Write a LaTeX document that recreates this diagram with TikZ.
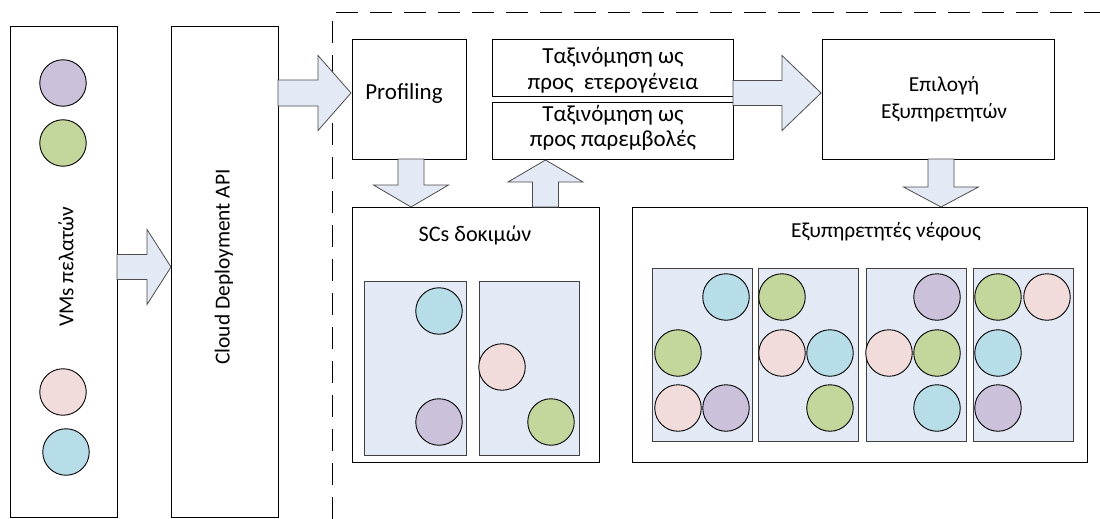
\documentclass[tikz,border=0pt]{standalone}
\usepackage{fontspec}
\setmainfont{Carlito}
\definecolor{cpurple}{HTML}{CCC1DA}
\definecolor{cgreen}{HTML}{C3D69B}
\definecolor{cpink}{HTML}{F2DCDB}
\definecolor{cblue}{HTML}{B7DDE8}
\definecolor{afill}{HTML}{E3EAF6}
\newcommand\harrow[6]{\draw[blockarrow] (#1,{#4-#5}) -- (#2,{#4-#5}) -- (#2,{#4-#6}) -- (#3,#4) -- (#2,{#4+#6}) -- (#2,{#4+#5}) -- (#1,{#4+#5}) -- cycle;}
\newcommand\varrow[6]{\draw[blockarrow] ({#4-#5},#1) -- ({#4-#5},#2) -- ({#4-#6},#2) -- (#4,#3) -- ({#4+#6},#2) -- ({#4+#5},#2) -- ({#4+#5},#1) -- cycle;}
\begin{document}
\begin{tikzpicture}[x=1pt,y=-1pt,
  box/.style={draw=black, line width=1pt, fill=white, inner sep=0pt},
  inbox/.style={draw=black!75, line width=1pt, fill=afill, inner sep=0pt, minimum width=100pt, minimum height=173pt},
  vm/.style={circle, draw=black, line width=0.9pt, minimum size=46.5pt, inner sep=0pt},
  blockarrow/.style={draw=black!70, line width=0.8pt, fill=afill, line join=miter},
  lbl/.style={font=\fontsize{21.4}{27}\selectfont, align=center, inner sep=0pt},
  biglbl/.style={font=\fontsize{23}{25.5}\selectfont, align=center, inner sep=0pt},
  dashline/.style={draw=black, line width=1pt, dash pattern=on 22pt off 12pt}]
\useasboundingbox (0,0) rectangle (1100,519);
\fill[white] (0,0) rectangle (1100,519);
% dashed boundary
\coordinate (dA) at (332,519);
\coordinate (dB) at (332,13);
\coordinate (dC) at (1100,13);
\draw[dashline] (dA) -- (dB) -- (dC);
% main boxes
\node[box, minimum width=107pt, minimum height=490pt] (vms) at (63.5,272) {};
\node[box, minimum width=107pt, minimum height=490pt] (api) at (224.5,272) {};
\node[box, minimum width=114pt, minimum height=119pt] (prof) at (409,99.5) {};
\node[box, minimum width=241pt, minimum height=56pt] (tax1) at (612.5,68) {};
\node[box, minimum width=241pt, minimum height=57pt] (tax2) at (612.5,130.5) {};
\node[box, minimum width=232pt, minimum height=119pt] (epi) at (938,99.5) {};
\node[box, minimum width=247pt, minimum height=255pt] (scs) at (475.5,334.5) {};
\node[box, minimum width=455pt, minimum height=255pt] (srv) at (859.5,334.5) {};
% labels
\node[lbl, rotate=90] (tvms) at (66,267) {VMs πελατών};
\node[lbl, rotate=90] (tapi) at (224,267) {Cloud Deployment API};
\node[biglbl] (tprof) at (404,93) {Profiling};
\node[biglbl] (ttax1) at (613,70.5) {Ταξινόμηση ως\\προς~ ετερογένεια};
\node[biglbl] (ttax2) at (613,128) {Ταξινόμηση ως\\προς παρεμβολές};
\node[lbl] (tepi) at (944,99) {Επιλογή\\Εξυπηρετητών};
\node[lbl, font=\fontsize{22.2}{27}\selectfont] (tscs) at (475,235) {SCs δοκιμών};
\node[lbl] (tsrv) at (886,232) {Εξυπηρετητές νέφους};
% VM circles
\node[vm, fill=cpurple] (v1) at (63,83) {};
\node[vm, fill=cgreen] (v2) at (63,143) {};
\node[vm, fill=cpink] (v3) at (63,392) {};
\node[vm, fill=cblue] (v4) at (66,452) {};
% block arrows
\harrow{117}{147}{171}{267}{12.5}{37.5}
\harrow{278}{318}{351}{93}{13}{37.5}
\harrow{733}{782}{821}{93}{12.5}{37.5}
\varrow{159}{185}{207}{411}{13}{37.5}
\varrow{207}{182}{160}{545.5}{13}{37.5}
\varrow{159}{187}{207}{941}{13}{37.5}
% SC inner boxes
\node[inbox, minimum width=102pt, minimum height=174pt] (sc1) at (415,368) {};
\node[inbox, minimum height=174pt] (sc2) at (529,368) {};
\node[vm, fill=cblue] (sa) at (439,311) {};
\node[vm, fill=cpurple] (sb) at (439,422) {};
\node[vm, fill=cpink] (sc) at (502,367) {};
\node[vm, fill=cgreen] (sd) at (551,422) {};
% server inner boxes
\node[inbox] (s1) at (702,354.5) {};
\node[inbox] (s2) at (808.5,354.5) {};
\node[inbox] (s3) at (916,354.5) {};
\node[inbox] (s4) at (1023,354.5) {};
\node[vm, fill=cblue] (a1) at (726,297) {};
\node[vm, fill=cgreen] (a2) at (678,353) {};
\node[vm, fill=cpink] (a3) at (678,408) {};
\node[vm, fill=cpurple] (a4) at (726,408) {};
\node[vm, fill=cgreen] (b1) at (782,297) {};
\node[vm, fill=cpink] (b2) at (782,353) {};
\node[vm, fill=cblue] (b3) at (830,353) {};
\node[vm, fill=cgreen] (b4) at (830,408) {};
\node[vm, fill=cpurple] (c1) at (937,297) {};
\node[vm, fill=cpink] (c2) at (889,353) {};
\node[vm, fill=cgreen] (c3) at (937,353) {};
\node[vm, fill=cblue] (c4) at (937,408) {};
\node[vm, fill=cgreen] (d1) at (998,297) {};
\node[vm, fill=cpink] (d2) at (1047,297) {};
\node[vm, fill=cblue] (d3) at (998,353) {};
\node[vm, fill=cpurple] (d4) at (998,408) {};
\end{tikzpicture}
\end{document}
